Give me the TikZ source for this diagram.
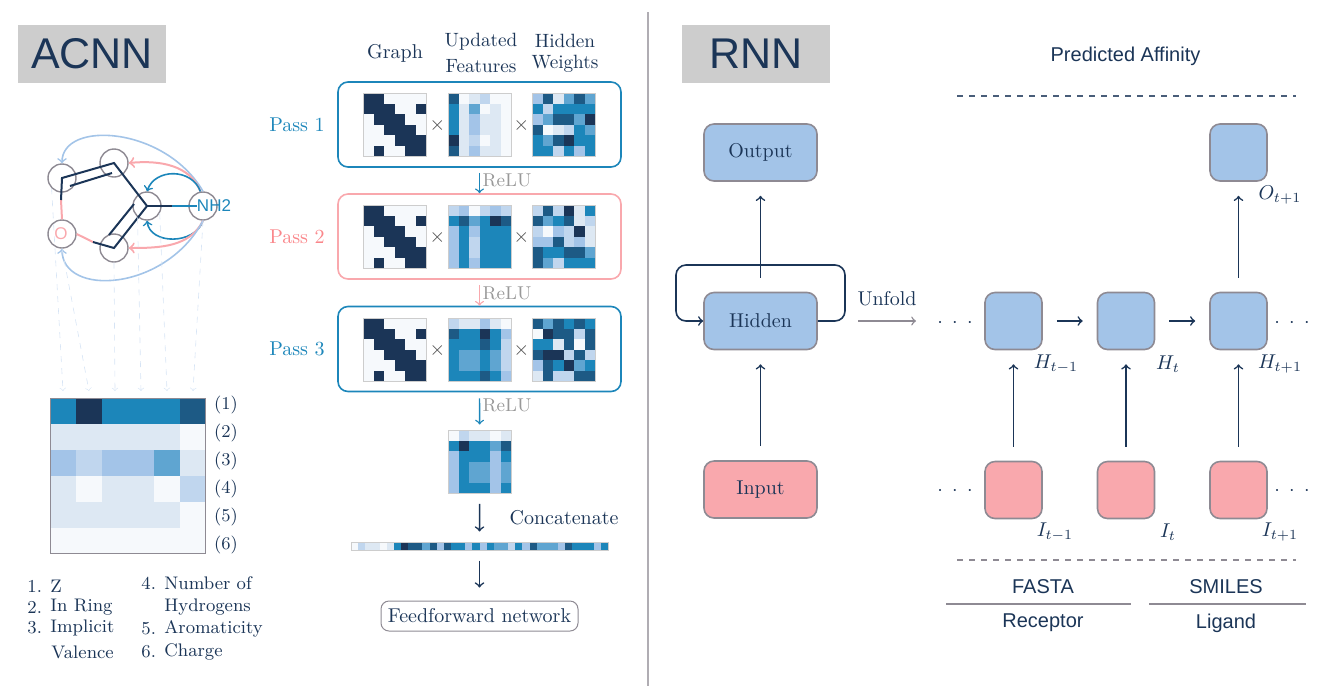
\documentclass[tikz,border=0pt]{standalone}
\usepackage{fontspec}
\newfontfamily\sansf{Liberation Sans}
\definecolor{navy}{HTML}{1B3557}
\definecolor{cblue}{HTML}{1C86BA}
\definecolor{lblue}{HTML}{A3C4E8}
\definecolor{cpink}{HTML}{F9A8AD}
\definecolor{cgray}{HTML}{8E8A93}
\definecolor{panel}{HTML}{CDCDCD}
\definecolor{hm0}{HTML}{F6F9FC}
\definecolor{hm1}{HTML}{DDE8F3}
\definecolor{hm2}{HTML}{A3C4E8}
\definecolor{hm3}{HTML}{1C86BA}
\definecolor{hm4}{HTML}{1B3557}
\definecolor{hm5}{HTML}{1D5A85}
\definecolor{hm6}{HTML}{5FA5D1}
\definecolor{hm7}{HTML}{C0D6EE}
% name, left, top, cell, frame colour, rows
\newcommand{\heatmap}[6]{
	\foreach \row [count=\j] in {#6} {
		\foreach \v [count=\i] in \row {
			\fill[hm\v] ({#2+(\i-1)*#4},{#3+(\j-1)*#4}) rectangle ++(#4,#4);
		}
	}
	\node[draw=#5,line width=.5pt,inner sep=0pt,minimum size=6*#4*.5pt] (#1) at ({#2+3*#4},{#3+3*#4}) {};
}
\newcommand{\sdots}{${\cdot}\hspace{4.7pt}{\cdot}\hspace{4.7pt}{\cdot}$}
\begin{document}
\begin{tikzpicture}[x=.5pt,y=-.5pt,navy,text=navy]
	\tikzstyle{lbl}=[inner sep=0pt,align=center]
	\tikzstyle{hdr}=[lbl,font=\fontsize{9.6}{11}\selectfont]
	\tikzstyle{rowl}=[lbl,font=\fontsize{9}{11}\selectfont]
	\tikzstyle{relu}=[lbl,text=black!40,font=\fontsize{9.3}{11}\selectfont]
	\tikzstyle{lgd}=[inner sep=0pt,anchor=west,font=\fontsize{9.1}{11}\selectfont]
	\tikzstyle{sans}=[inner sep=0pt,font=\sansf]
	\tikzstyle{title}=[fill=panel,text=navy,minimum width=74pt,minimum height=29pt,inner sep=0pt,font=\sansf\fontsize{21.5}{24}\selectfont]
	\tikzstyle{atom}=[circle,draw=cgray,line width=.7pt,minimum size=14pt,inner sep=0pt]
	\tikzstyle{bond}=[draw=navy,line width=1pt]
	\tikzstyle{pbond}=[draw=cpink,line width=1pt]
	\tikzstyle{feat}=[draw=lblue!45,dashed,line width=.3pt,->]
	\tikzstyle{pass}=[rounded corners=5pt,line width=.8pt,minimum width=141.5pt,minimum height=42.5pt,inner sep=0pt]
	\tikzstyle{arrow}=[->,draw=navy,line width=.8pt]
	\tikzstyle{rnn-node}=[rounded corners=5pt,draw=cgray,line width=.8pt,inner sep=0pt]
	\tikzstyle{rnn-wide}=[rnn-node,minimum width=56.5pt,minimum height=28.5pt]
	\tikzstyle{rnn-sq}=[rnn-node,minimum size=28.5pt]
	\tikzstyle{rnn-up}=[arrow,shorten <=7pt,shorten >=7pt]

	\useasboundingbox (0,0) rectangle (1333,698);

	% titles and divider
	\node[title] (t-acnn) at (92,53.5) {ACNN};
	\node[title] (t-rnn) at (756,53.5) {RNN};
	\coordinate (div-a) at (648,12);
	\coordinate (div-b) at (648,686);
	\draw[draw=cgray!70,line width=.6pt] (div-a) -- (div-b);

	% molecule
	\node[atom] (a1) at (62,178) {};
	\node[atom] (a2) at (114,163) {};
	\node[atom] (a3) at (147,206) {};
	\node[atom] (a4) at (114,248) {};
	\node[atom] (a5) at (62,234) {};
	\node[atom] (a6) at (203,206) {};
	\node[sans,text=cpink,font=\sansf\fontsize{8.5}{10}\selectfont] (l-o) at (61,234) {O};
	\node[sans,text=cblue,font=\sansf\fontsize{8.5}{10}\selectfont] (l-n) at (214,206) {NH2};

	\coordinate (m15) at (61,200);
	\coordinate (m45) at (93,242);
	\coordinate (m36) at (172,206);
	\coordinate (d1a) at (70,186);
	\coordinate (d1b) at (112,173);
	\coordinate (d2a) at (134,204);
	\coordinate (d2b) at (109,235);
	\draw[pbond] (m15) -- (a5.north);
	\draw[pbond] (m45) -- (a5.east);
	\draw[draw=cblue,line width=1pt] (m36) -- (l-n.west);
	\draw[bond] (m15) -- (a1.center) -- (a2.center) -- (a3.center) -- (a4.center) -- (m45);
	\draw[bond] (a3.center) -- (m36);
	\draw[bond] (d1a) -- (d1b);
	\draw[bond] (d2a) -- (d2b);

	\draw[->,draw=lblue,line width=.8pt] (a6.north) .. controls (165,126) and (62,120) .. (a1.north);
	\draw[->,draw=cpink,line width=1pt] (a6.100) .. controls (190,165) and (160,160) .. (a2.east);
	\draw[->,draw=cblue,line width=.8pt] (a6.100) .. controls (192,168) and (155,168) .. (a3.north);
	\draw[->,draw=cblue,line width=.8pt] (a6.south) .. controls (195,245) and (150,245) .. (a3.south);
	\draw[->,draw=cpink,line width=1pt] (a6.south) .. controls (190,247) and (160,248) .. (a4.east);
	\draw[->,draw=lblue,line width=.8pt] (a6.south) .. controls (165,292) and (62,297) .. (a5.south);

	% atom features
	\coordinate (f1) at (63,391);
	\coordinate (f2) at (89,391);
	\coordinate (f3) at (115,391);
	\coordinate (f4) at (141,391);
	\coordinate (f5) at (167,391);
	\coordinate (f6) at (193,391);
	\draw[feat] (a1.south west) -- (f1);
	\draw[feat] (a5.south) -- (f2);
	\draw[feat] (a4.south) -- (f3);
	\draw[feat] (a3.230) -- (f4);
	\draw[feat] (a3.-30) -- (f5);
	\draw[feat] (a6.south) -- (f6);

	\heatmap{fmat}{50}{398}{25.9}{cgray}{{3,4,3,3,3,5},{1,1,1,1,1,0},{2,7,2,2,6,1},{1,0,1,1,0,7},{1,1,1,1,1,0},{0,0,0,0,0,0}}

	\node[rowl] (r1) at (226,405) {(1)};
	\node[rowl] (r2) at (226,433) {(2)};
	\node[rowl] (r3) at (226,461) {(3)};
	\node[rowl] (r4) at (226,489) {(4)};
	\node[rowl] (r5) at (226,517) {(5)};
	\node[rowl] (r6) at (226,545) {(6)};

	\node[lgd] (n1) at (27,586) {1.};
	\node[lgd] (n2) at (27,607) {2.};
	\node[lgd] (n3) at (27,628) {3.};
	\node[lgd] (e1) at (50,586) {Z};
	\node[lgd] (e2) at (50,607) {In Ring};
	\node[lgd] (e3) at (50,628) {Implicit};
	\node[lgd] (e3b) at (51,652) {Valence};
	\node[lgd] (n4) at (141,583) {4.};
	\node[lgd] (n5) at (141,629) {5.};
	\node[lgd] (n6) at (141,652) {6.};
	\node[lgd] (e4) at (164,583) {Number of};
	\node[lgd] (e4b) at (164,607) {Hydrogens};
	\node[lgd] (e5) at (164,629) {Aromaticity};
	\node[lgd] (e6) at (164,652) {Charge};

	% message passing
	\node[lbl] (h-graph) at (395,53) {Graph};
	\node[hdr] (h-feat1) at (481,42) {Updated};
	\node[hdr] (h-feat2) at (481,66) {Features};
	\node[hdr] (h-hid1) at (565,41) {Hidden};
	\node[hdr] (h-hid2) at (565,64) {Weights};

	\node[pass,draw=cblue] (box1) at (479.5,124.5) {};
	\node[pass,draw=cpink] (box2) at (479.5,236.5) {};
	\node[pass,draw=cblue] (box3) at (479.5,349) {};

	\node[lbl,text=cblue] (p1) at (297,125) {Pass 1};
	\node[lbl,text=cpink!80!red] (p2) at (297,237) {Pass 2};
	\node[lbl,text=cblue] (p3) at (297,349) {Pass 3};

	\heatmap{g1}{363}{93}{10.55}{panel}{{4,4,0,0,0,0},{4,4,4,0,0,4},{0,4,4,4,0,0},{0,0,4,4,4,0},{0,0,0,4,4,4},{0,4,0,0,4,4}}
	\heatmap{u1}{448}{93}{10.55}{panel}{{5,0,1,7,0,0},{3,1,6,0,1,0},{3,1,2,1,1,0},{3,1,2,1,1,0},{4,1,7,0,1,0},{5,1,2,1,1,0}}
	\heatmap{w1}{532}{93}{10.55}{panel}{{2,5,1,6,5,6},{3,7,3,3,3,3},{2,6,5,5,6,4},{5,0,1,7,3,6},{3,6,5,4,3,3},{3,3,7,3,2,3}}
	\heatmap{g2}{363}{205}{10.55}{panel}{{4,4,0,0,0,0},{4,4,4,0,0,4},{0,4,4,4,0,0},{0,0,4,4,4,0},{0,0,0,4,4,4},{0,4,0,0,4,4}}
	\heatmap{u2}{448}{205}{10.55}{panel}{{7,2,0,7,2,7},{3,5,6,3,4,5},{2,3,2,3,3,3},{2,3,7,3,3,3},{2,3,7,3,3,3},{2,3,2,3,3,3}}
	\heatmap{w2}{532}{205}{10.55}{panel}{{7,5,7,4,1,3},{5,6,3,5,1,7},{7,0,2,7,4,1},{2,2,5,7,2,1},{5,3,3,5,5,6},{5,6,7,3,3,3}}
	\heatmap{g3}{363}{318}{10.55}{panel}{{4,4,0,0,0,0},{4,4,4,0,0,4},{0,4,4,4,0,0},{0,0,4,4,4,0},{0,0,0,4,4,4},{0,4,0,0,4,4}}
	\heatmap{u3}{448}{318}{10.55}{panel}{{7,1,1,2,1,0},{5,3,3,4,3,2},{3,3,3,5,3,7},{3,6,6,3,6,7},{3,6,6,3,6,7},{3,3,3,5,3,2}}
	\heatmap{w3}{532}{318}{10.55}{panel}{{5,6,5,3,5,3},{0,4,5,5,7,5},{3,3,1,5,0,5},{5,4,4,7,5,7},{2,5,3,4,6,3},{1,5,7,7,5,5}}
	\heatmap{out}{448}{430}{10.55}{panel}{{0,7,1,1,0,1},{3,4,3,3,6,5},{2,3,3,3,2,3},{2,3,6,6,2,6},{2,3,6,6,2,6},{2,3,3,3,2,3}}

	\node[lbl,text=black!70] (x1a) at (437.5,125) {$\times$};
	\node[lbl,text=black!70] (x1b) at (521.5,125) {$\times$};
	\node[lbl,text=black!70] (x2a) at (437.5,237) {$\times$};
	\node[lbl,text=black!70] (x2b) at (521.5,237) {$\times$};
	\node[lbl,text=black!70] (x3a) at (437.5,350) {$\times$};
	\node[lbl,text=black!70] (x3b) at (521.5,350) {$\times$};

	\draw[->,draw=cblue,line width=.7pt,shorten <=2.5pt] (box1.south) -- (box2.north);
	\draw[->,draw=cpink,line width=.7pt,shorten <=2.5pt] (box2.south) -- (box3.north);
	\draw[->,draw=cblue,line width=.7pt,shorten <=3pt,shorten >=2.5pt] (box3.south) -- (out.north);
	\node[relu] (relu1) at (507,180) {ReLU};
	\node[relu] (relu2) at (507,293) {ReLU};
	\node[relu] (relu3) at (507,405) {ReLU};

	\node[lbl] (concat) at (564,518) {Concatenate};
	% one row of 36 cells
	\foreach \v [count=\i] in {0,7,1,1,0,1,3,4,5,5,6,5,2,5,3,3,2,3,2,3,6,6,7,3,2,5,6,6,6,2,5,3,3,3,2,3} {
		\fill[hm\v] ({351+(\i-1)*7.14},542) rectangle ++(7.14,8);
	}
	\node[draw=panel,line width=.5pt,minimum width=128.5pt,minimum height=4pt,inner sep=0pt] (bar) at (479.5,546) {};
	\node[draw=cgray,rounded corners=4pt,line width=.5pt,minimum width=98.5pt,minimum height=15pt,inner sep=0pt] (ff) at (479.5,616) {Feedforward network};
	\draw[arrow,shorten <=5pt,shorten >=5pt] (out.south) -- (bar.north);
	\draw[arrow,shorten <=5pt,shorten >=6.5pt] (bar.south) -- (ff.north);

	% rnn, folded
	\node[rnn-wide,fill=lblue] (output) at (760.5,152.5) {Output};
	\node[rnn-wide,fill=lblue] (hidden) at (760.5,321) {Hidden};
	\node[rnn-wide,fill=cpink] (input) at (760.5,489.5) {Input};
	\coordinate (loopr) at (845,265);
	\coordinate (loopl) at (676,265);
	\coordinate (loopra) at (845,321);
	\coordinate (loopla) at (676,321);
	\draw[arrow,rounded corners=5pt] (hidden.east) -- (loopra) -- (loopr) -- (loopl) -- (loopla) -- (hidden.west);
	\draw[rnn-up] (hidden.north) -- (output.south);
	\draw[rnn-up] (input.north) -- (hidden.south);
	\node[lbl,text=navy] (unfold) at (887,299) {Unfold};
	\coordinate (ua) at (858,321);
	\coordinate (ub) at (916,321);
	\draw[->,draw=cgray,line width=.7pt] (ua) -- (ub);

	% rnn, unfolded
	\node[rnn-sq,fill=lblue] (h0) at (1013.5,321) {};
	\node[rnn-sq,fill=lblue] (h1) at (1126,321) {};
	\node[rnn-sq,fill=lblue] (h2) at (1238.5,321) {};
	\node[rnn-sq,fill=cpink] (i0) at (1013.5,490) {};
	\node[rnn-sq,fill=cpink] (i1) at (1126,490) {};
	\node[rnn-sq,fill=cpink] (i2) at (1238.5,490) {};
	\node[rnn-sq,fill=lblue] (o2) at (1238.5,152.5) {};

	\draw[rnn-up] (i0.north) -- (h0.south);
	\draw[rnn-up] (i1.north) -- (h1.south);
	\draw[rnn-up] (i2.north) -- (h2.south);
	\draw[rnn-up] (h2.north) -- (o2.south);
	\draw[rnn-up] (h0.east) -- (h1.west);
	\draw[rnn-up] (h1.east) -- (h2.west);

	\node[lbl] (lh0) at (1056,364) {$H_{t-1}$};
	\node[lbl] (lh1) at (1168,364) {$H_{t}$};
	\node[lbl] (lh2) at (1280,364) {$H_{t+1}$};
	\node[lbl] (li0) at (1055,532) {$I_{t-1}$};
	\node[lbl] (li1) at (1168,532) {$I_{t}$};
	\node[lbl] (li2) at (1280,532) {$I_{t+1}$};
	\node[lbl] (lo2) at (1280,195) {$O_{t+1}$};

	\node[lbl] (dh0) at (955,323) {\sdots};
	\node[lbl] (dh1) at (1292,323) {\sdots};
	\node[lbl] (di0) at (955,491.5) {\sdots};
	\node[lbl] (di1) at (1292,491.5) {\sdots};

	\coordinate (tl) at (957,96);
	\coordinate (tr) at (1296,96);
	\coordinate (bl) at (957,560);
	\coordinate (br) at (1296,560);
	\draw[draw=navy!80,dashed,line width=.6pt] (tl) -- (tr);
	\draw[draw=cgray,dashed,line width=.6pt] (bl) -- (br);

	\node[sans] (pred) at (1125.5,56) {Predicted Affinity};
	\node[sans] (fasta) at (1043,587) {FASTA};
	\node[sans] (smiles) at (1226,587) {SMILES};
	\node[sans] (recep) at (1043,623) {Receptor};
	\node[sans] (ligand) at (1226,623) {Ligand};
	\coordinate (ra) at (946,604);
	\coordinate (rb) at (1131,604);
	\coordinate (la) at (1149,604);
	\coordinate (lb) at (1306,604);
	\draw[draw=cgray,line width=.7pt] (ra) -- (rb);
	\draw[draw=cgray,line width=.7pt] (la) -- (lb);
\end{tikzpicture}
\end{document}
